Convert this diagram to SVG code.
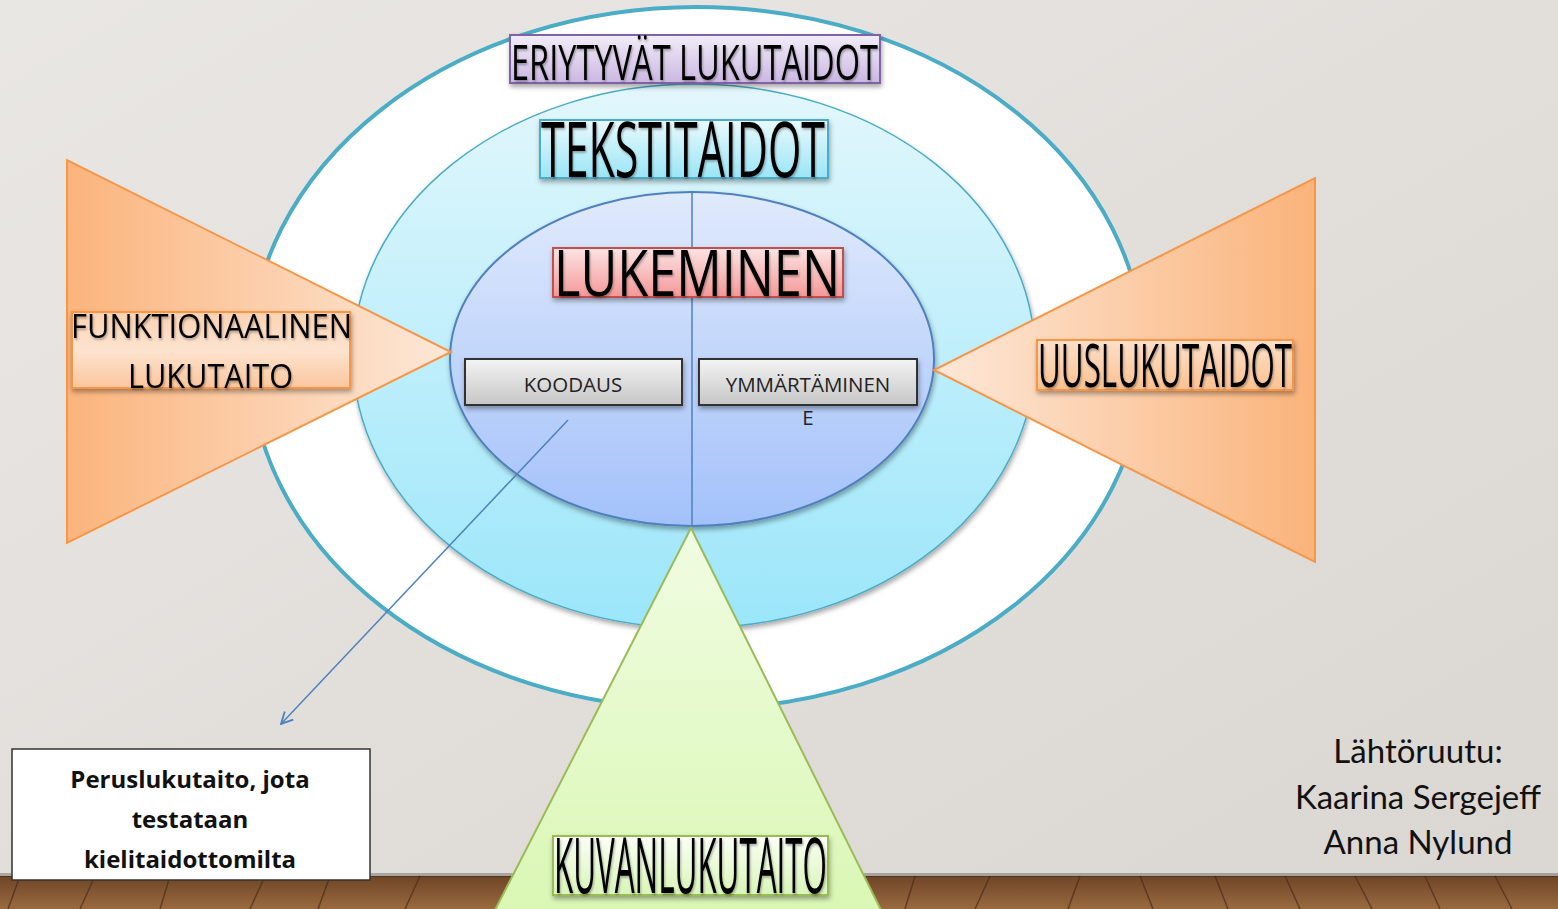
<svg xmlns="http://www.w3.org/2000/svg" width="1558" height="909" viewBox="0 0 1558 909">
<defs>
<linearGradient id="wall" x1="0" y1="0" x2="1" y2="1">
<stop offset="0" stop-color="#e9e7e4"/><stop offset="0.5" stop-color="#e2dfdb"/><stop offset="1" stop-color="#dad6d1"/>
</linearGradient>
<linearGradient id="floor" x1="0" y1="0" x2="0" y2="1">
<stop offset="0" stop-color="#6e4526"/><stop offset="1" stop-color="#9a6a40"/>
</linearGradient>
<linearGradient id="gMid" x1="0" y1="0" x2="0" y2="1">
<stop offset="0" stop-color="#e2f7fc"/><stop offset="1" stop-color="#9be6fa"/>
</linearGradient>
<linearGradient id="gIn" x1="0" y1="0" x2="0" y2="1">
<stop offset="0" stop-color="#e0eafc"/><stop offset="1" stop-color="#a3c1fa"/>
</linearGradient>
<linearGradient id="gLeft" x1="0" y1="0" x2="1" y2="0">
<stop offset="0" stop-color="#fbb47c"/><stop offset="1" stop-color="#fde8d8"/>
</linearGradient>
<linearGradient id="gRight" x1="0" y1="0" x2="1" y2="0">
<stop offset="0" stop-color="#fde8d8"/><stop offset="1" stop-color="#fab37a"/>
</linearGradient>
<linearGradient id="gGreen" x1="0" y1="0" x2="0" y2="1">
<stop offset="0" stop-color="#f0fce2"/><stop offset="1" stop-color="#daf7b4"/>
</linearGradient>
<linearGradient id="gPurple" x1="0" y1="0" x2="0" y2="1">
<stop offset="0" stop-color="#f2edf8"/><stop offset="1" stop-color="#cbb7e2"/>
</linearGradient>
<linearGradient id="gCyan" x1="0" y1="0" x2="0" y2="1">
<stop offset="0" stop-color="#eafafd"/><stop offset="1" stop-color="#9ae5f7"/>
</linearGradient>
<linearGradient id="gRed" x1="0" y1="0" x2="0" y2="1">
<stop offset="0" stop-color="#fde4e4"/><stop offset="1" stop-color="#f49797"/>
</linearGradient>
<linearGradient id="gOrangeBox" x1="0" y1="0" x2="0" y2="1">
<stop offset="0" stop-color="#fcd3b2"/><stop offset="0.5" stop-color="#fde3cf"/><stop offset="1" stop-color="#fbc69d"/>
</linearGradient>
<linearGradient id="gOrangeBox2" x1="0" y1="0" x2="0" y2="1">
<stop offset="0" stop-color="#fde0c9"/><stop offset="1" stop-color="#fbc291"/>
</linearGradient>
<linearGradient id="gGreenBox" x1="0" y1="0" x2="0" y2="1">
<stop offset="0" stop-color="#fbfff5"/><stop offset="1" stop-color="#d9f5b8"/>
</linearGradient>
<linearGradient id="gBtn" x1="0" y1="0" x2="0" y2="1">
<stop offset="0" stop-color="#f4f4f4"/><stop offset="1" stop-color="#c6c6c6"/>
</linearGradient>
<filter id="sh" x="-10%" y="-20%" width="120%" height="160%">
<feDropShadow dx="1" dy="3" stdDeviation="2.5" flood-color="#000" flood-opacity="0.35"/>
</filter>
<filter id="tsh" x="-5%" y="-10%" width="110%" height="130%">
<feDropShadow dx="1" dy="2" stdDeviation="1.2" flood-color="#000" flood-opacity="0.3"/>
</filter>
<marker id="arr" viewBox="0 0 12 12" refX="11" refY="6" markerWidth="14" markerHeight="14" markerUnits="userSpaceOnUse" orient="auto">
<path d="M1,1 L11,6 L1,11" fill="none" stroke="#4f81bd" stroke-width="1.6"/>
</marker>
</defs>
<style>
.big{font-family:"Open Sans","DejaVu Sans",sans-serif;fill:#000;}
.btn{font-family:"Open Sans","DejaVu Sans",sans-serif;font-size:20.5px;fill:#222;text-anchor:middle;}
.note{font-family:"Open Sans","Liberation Sans",sans-serif;font-weight:bold;font-size:24px;fill:#111;text-anchor:middle;}
.cred{font-family:"Lato","Liberation Sans",sans-serif;font-size:33px;fill:#111;text-anchor:middle;}
</style>

<!-- background -->
<rect x="0" y="0" width="1558" height="909" fill="url(#wall)"/>
<rect x="0" y="876" width="1558" height="33" fill="url(#floor)"/>
<g stroke="#4a2c16" stroke-width="1.5" opacity="0.7">
<line x1="20" y1="876" x2="8" y2="909"/><line x1="95" y1="876" x2="80" y2="909"/>
<line x1="170" y1="876" x2="160" y2="909"/><line x1="265" y1="876" x2="250" y2="909"/>
<line x1="330" y1="876" x2="318" y2="909"/><line x1="420" y1="876" x2="405" y2="909"/>
<line x1="915" y1="876" x2="905" y2="909"/><line x1="990" y1="876" x2="975" y2="909"/>
<line x1="1080" y1="876" x2="1068" y2="909"/><line x1="1140" y1="876" x2="1153" y2="909"/>
<line x1="1215" y1="876" x2="1228" y2="909"/><line x1="1285" y1="876" x2="1300" y2="909"/>
<line x1="1355" y1="876" x2="1372" y2="909"/><line x1="1425" y1="876" x2="1440" y2="909"/>
<line x1="1495" y1="876" x2="1512" y2="909"/>
</g>
<rect x="0" y="873" width="1558" height="4" fill="#000" opacity="0.25"/>

<!-- ellipses -->
<g id="outer-ellipse">
<ellipse cx="697" cy="358" rx="447" ry="351" fill="#ffffff" stroke="#4bacc6" stroke-width="4"/>
</g>
<g id="middle-ellipse" filter="url(#sh)">
<ellipse cx="694" cy="356" rx="341" ry="272" fill="url(#gMid)" stroke="#4bacc6" stroke-width="1.5"/>
</g>
<g id="inner-ellipse" filter="url(#sh)">
<ellipse cx="692" cy="359" rx="242" ry="167" fill="url(#gIn)" stroke="#4f81bd" stroke-width="2"/>
</g>

<!-- triangles -->
<g id="left-triangle">
<polygon points="67,160 67,543 451,352" fill="url(#gLeft)" stroke="#f79646" stroke-width="2"/>
</g>
<g id="right-triangle">
<polygon points="1315,178 1315,562 934,370" fill="url(#gRight)" stroke="#f79646" stroke-width="2"/>
</g>
<g id="bottom-triangle">
<polygon points="691,528 494,912 882,912" fill="url(#gGreen)" stroke="#9bbb59" stroke-width="2"/>
</g>

<!-- connectors -->
<g id="connectors">
<line x1="692" y1="192" x2="692" y2="527" stroke="#4f81bd" stroke-width="1.5"/>
<line x1="568" y1="420" x2="281" y2="724" stroke="#4f81bd" stroke-width="1.5" marker-end="url(#arr)"/>
</g>

<!-- labels -->
<g id="eriytyvat">
<rect x="510" y="35" width="370" height="48" fill="url(#gPurple)" stroke="#8064a2" stroke-width="2" filter="url(#sh)"/>
<text class="big" x="511" y="80" font-size="50" textLength="367" lengthAdjust="spacingAndGlyphs" filter="url(#tsh)">ERIYTYVÄT LUKUTAIDOT</text>
</g>
<g id="tekstitaidot">
<rect x="540" y="120" width="288" height="58" fill="url(#gCyan)" stroke="#4bacc6" stroke-width="2" filter="url(#sh)"/>
<text class="big" x="541" y="177" font-size="77" textLength="284" lengthAdjust="spacingAndGlyphs" filter="url(#tsh)">TEKSTITAIDOT</text>
</g>
<g id="lukeminen">
<rect x="553" y="248" width="290" height="49" fill="url(#gRed)" stroke="#c0504d" stroke-width="2" filter="url(#sh)"/>
<text class="big" x="554" y="296" font-size="64" textLength="286" lengthAdjust="spacingAndGlyphs" filter="url(#tsh)">LUKEMINEN</text>
</g>
<g id="koodaus">
<rect x="465" y="359" width="217" height="46" fill="url(#gBtn)" stroke="#333" stroke-width="2" filter="url(#sh)"/>
<text class="btn" x="573" y="392">KOODAUS</text>
</g>
<g id="ymmartaminen">
<rect x="699" y="359" width="218" height="46" fill="url(#gBtn)" stroke="#333" stroke-width="2" filter="url(#sh)"/>
<text class="btn" x="808" y="392">YMMÄRTÄMINEN</text>
<text class="btn" x="808" y="425">E</text>
</g>
<g id="funktionaalinen">
<rect x="72" y="312" width="278" height="76" fill="url(#gOrangeBox)" stroke="#f79646" stroke-width="2" filter="url(#sh)"/>
<text class="big" x="71" y="338" font-size="33" textLength="281" lengthAdjust="spacingAndGlyphs" filter="url(#tsh)">FUNKTIONAALINEN</text>
<text class="big" x="128" y="388" font-size="33" textLength="165" lengthAdjust="spacingAndGlyphs" filter="url(#tsh)">LUKUTAITO</text>
</g>
<g id="uuslukutaidot">
<rect x="1037" y="340" width="256" height="50" fill="url(#gOrangeBox2)" stroke="#f79646" stroke-width="2" filter="url(#sh)"/>
<text class="big" x="1038" y="387" font-size="61" textLength="254" lengthAdjust="spacingAndGlyphs" filter="url(#tsh)">UUSLUKUTAIDOT</text>
</g>
<g id="kuvanlukutaito">
<rect x="553" y="836" width="275" height="59" fill="url(#gGreenBox)" stroke="#9bbb59" stroke-width="2" filter="url(#sh)"/>
<text class="big" x="554" y="893" font-size="77" textLength="273" lengthAdjust="spacingAndGlyphs" filter="url(#tsh)">KUVANLUKUTAITO</text>
</g>

<!-- note box -->
<g id="note">
<rect x="12" y="749" width="358" height="131" fill="#ffffff" stroke="#333" stroke-width="1.5"/>
<text class="note" x="190" y="788">Peruslukutaito, jota</text>
<text class="note" x="190" y="828">testataan</text>
<text class="note" x="190" y="868">kielitaidottomilta</text>
</g>

<!-- credits -->
<g id="credits">
<text class="cred" x="1418" y="763">Lähtöruutu:</text>
<text class="cred" x="1418" y="809">Kaarina Sergejeff</text>
<text class="cred" x="1418" y="854">Anna Nylund</text>
</g>
</svg>
